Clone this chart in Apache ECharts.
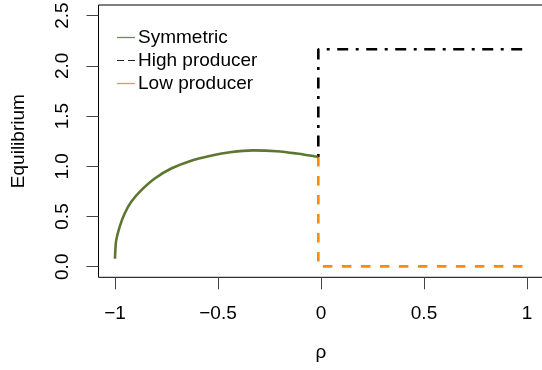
<!DOCTYPE html>
<html>
<head>
<meta charset="utf-8">
<script src="https://cdn.jsdelivr.net/npm/echarts@6/dist/echarts.min.js"></script>
<style>
html,body{margin:0;padding:0;background:#fff;}
#chart{width:542px;height:370px;}
</style>
</head>
<body>
<div id="chart"></div>
<script>
// ---- data ----
const rho       = [-1, -0.998, -0.994, -0.977, -0.953, -0.921, -0.872, -0.807, -0.727, -0.63, -0.53, -0.442, -0.329, -0.215, -0.118, -0.013];
const symmetric = [0.08, 0.17, 0.265, 0.40, 0.53, 0.646, 0.762, 0.879, 0.978, 1.056, 1.108, 1.14, 1.158, 1.15, 1.127, 1.093];
const highRho   = [-0.013, -0.013, 0.99];
const highVals  = [1.093, 2.164, 2.164];
const lowRho    = [-0.013, -0.013, 0.99];
const lowVals   = [1.093, 0.004, 0.004];
const xTicks    = [-1, -0.5, 0, 0.5, 1];
const yTicks    = [0, 0.5, 1, 1.5, 2, 2.5];
const seriesNames = ['Symmetric', 'High producer', 'Low producer'];

const FONT = 'Liberation Sans, Arial, Helvetica, sans-serif';
const pairs = (xs, ys) => xs.map((x, i) => [x, ys[i]]);
const fmtX = v => v === 0 ? '0' : String(v).replace('-', '\u2212');

const chart = echarts.init(document.getElementById('chart'), null, {renderer: 'canvas'});
chart.setOption({
  animation: false,
  backgroundColor: '#fff',
  grid: {left: 98.5, top: 5, width: 445, height: 272.3, show: true, borderColor: '#000', borderWidth: 1,
         backgroundColor: 'transparent', outerBoundsMode: 'none', containLabel: false},
  legend: {
    orient: 'vertical', left: 112, top: 21,
    itemWidth: 18, itemHeight: 1.3, itemGap: 0,
    textStyle: {fontFamily: FONT, fontSize: 19, color: '#000', lineHeight: 23, padding: [0, 0, 0, -2]},
    data: [
      {name: seriesNames[0], icon: 'rect', itemStyle: {color: '#6f8f3f'}},
      {name: seriesNames[1], icon: 'path://M0,0H7V1H0Z M11,0H18V1H11Z', itemStyle: {color: '#222'}},
      {name: seriesNames[2], icon: 'rect', itemStyle: {color: '#ff9a25'}}
    ]
  },
  xAxis: {
    type: 'value', min: -1.08, max: 1.08,
    name: '\u03c1', nameLocation: 'middle', nameGap: 66,
    nameTextStyle: {fontFamily: FONT, fontSize: 19, color: '#000'},
    axisLine: {show: false, onZero: false},
    splitLine: {show: false},
    axisTick: {show: true, length: 12, lineStyle: {color: '#444', width: 1}, customValues: xTicks},
    axisLabel: {fontFamily: FONT, fontSize: 19, color: '#000', margin: 27, customValues: xTicks, formatter: fmtX}
  },
  yAxis: {
    type: 'value', min: -0.105, max: 2.605,
    name: 'Equilibrium', nameLocation: 'middle', nameGap: 70, nameRotate: 90,
    nameTextStyle: {fontFamily: FONT, fontSize: 19, color: '#000'},
    axisLine: {show: false, onZero: false},
    splitLine: {show: false},
    axisTick: {show: true, length: 12, lineStyle: {color: '#444', width: 1}, customValues: yTicks},
    axisLabel: {fontFamily: FONT, fontSize: 19, color: '#000', margin: 26, rotate: 90, customValues: yTicks, formatter: v => v.toFixed(1)}
  },
  series: [
    {name: seriesNames[0], type: 'line', data: pairs(rho, symmetric), symbol: 'none', smooth: 0.35,
     z: 5, lineStyle: {color: '#5d7630', width: 2.6}, itemStyle: {color: '#5d7630'}},
    {name: seriesNames[1], type: 'line', data: pairs(highRho, highVals), symbol: 'none', z: 3,
     lineStyle: {color: '#000', width: 2.6, type: [3, 7.5, 11, 7.5], cap: 'butt'}, itemStyle: {color: '#000'}},
    {name: seriesNames[2], type: 'line', data: pairs(lowRho, lowVals), symbol: 'none', z: 4,
     lineStyle: {color: '#ff8c00', width: 2.6, type: [9.5, 9.5], cap: 'butt'}, itemStyle: {color: '#ff8c00'}}
  ]
});
</script>
</body>
</html>
